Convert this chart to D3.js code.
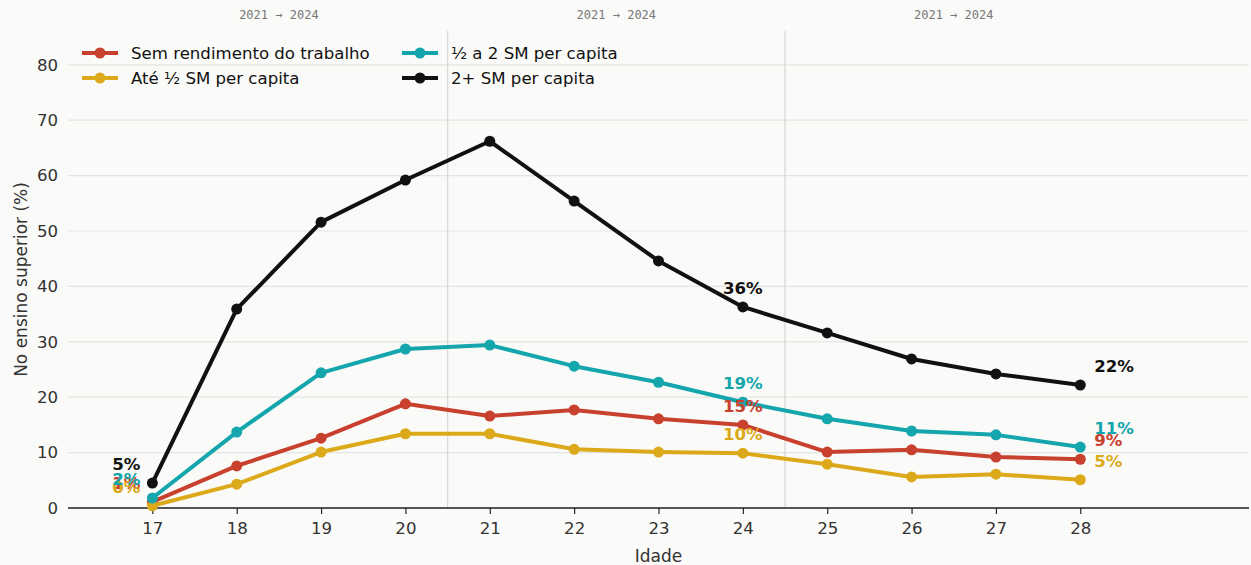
<!DOCTYPE html>
<html>
<head>
<meta charset="utf-8">
<script src="https://cdn.jsdelivr.net/npm/d3@7"></script>
<style>
  html, body { margin: 0; padding: 0; background: #fafaf8; }
  svg { display: block; font-family: "DejaVu Sans", sans-serif; }
</style>
</head>
<body>
<svg id="chart" width="1251" height="565"></svg>
<script>
const ages = [17, 18, 19, 20, 21, 22, 23, 24, 25, 26, 27, 28];
const seriesNames = ["Sem rendimento do trabalho", "Até ½ SM per capita", "½ a 2 SM per capita", "2+ SM per capita"];
const semRendimento = [1.1, 7.6, 12.6, 18.8, 16.6, 17.7, 16.1, 15.0, 10.1, 10.5, 9.2, 8.8];
const ateMeio = [0.4, 4.3, 10.1, 13.4, 13.4, 10.6, 10.1, 9.9, 7.9, 5.6, 6.1, 5.1];
const meioA2 = [1.8, 13.7, 24.4, 28.7, 29.4, 25.6, 22.7, 19.1, 16.1, 13.9, 13.2, 11.0];
const doisMais = [4.5, 35.9, 51.6, 59.2, 66.2, 55.4, 44.6, 36.3, 31.6, 26.9, 24.2, 22.2];
const colors = ["#c8402e", "#dca91b", "#14a6ac", "#111111"];
const yTicks = [0, 10, 20, 30, 40, 50, 60, 70, 80];
const periodDividers = [20.5, 24.5];
const periodCenters = [18.5, 22.5, 26.5];
const periodLabel = "2021 → 2024";
const labelAges = [17, 24, 28];

const seriesValues = [semRendimento, ateMeio, meioA2, doisMais];

const svg = d3.select("#chart");
const margin = {left: 68, right: 1249, top: 31, bottom: 508};
const x = d3.scaleLinear().domain([16, 30]).range([margin.left, margin.right]);
const y = d3.scaleLinear().domain([0, 86.1]).range([margin.bottom, margin.top]);
const fs = 16.6;

// grid
svg.append("g").selectAll("line").data(yTicks).join("line")
  .attr("x1", margin.left).attr("x2", margin.right)
  .attr("y1", d => y(d)).attr("y2", d => y(d))
  .attr("stroke", "#e4e4e2").attr("stroke-width", 1.2);

// period dividers
svg.append("g").selectAll("line").data(periodDividers).join("line")
  .attr("x1", d => x(d)).attr("x2", d => x(d))
  .attr("y1", margin.top).attr("y2", margin.bottom)
  .attr("stroke", "#d8d8d6").attr("stroke-width", 1.3);

svg.append("g").selectAll("text").data(periodCenters).join("text")
  .attr("x", d => x(d)).attr("y", 19)
  .attr("text-anchor", "middle")
  .attr("font-family", "DejaVu Sans Mono, monospace")
  .attr("font-size", 12).attr("fill", "#777")
  .text(periodLabel);

// y axis labels
const yAxis = d3.axisLeft(y).tickValues(yTicks).tickSize(0).tickPadding(10);
const gy = svg.append("g").attr("transform", `translate(${margin.left},0)`).call(yAxis);
gy.select(".domain").remove();
gy.selectAll("text").attr("font-size", fs).attr("fill", "#333").attr("font-family", "DejaVu Sans, sans-serif");

// x axis
const xAxis = d3.axisBottom(x).tickValues(ages).tickSize(6).tickPadding(8).tickFormat(d3.format("d"));
const gx = svg.append("g").attr("transform", `translate(0,${margin.bottom})`).call(xAxis);
gx.select(".domain").attr("stroke", "#222").attr("stroke-width", 1.6).attr("d", `M${margin.left},0H${margin.right}`);
gx.selectAll(".tick line").attr("stroke", "#222").attr("stroke-width", 1.2);
gx.selectAll("text").attr("font-size", fs).attr("fill", "#333").attr("font-family", "DejaVu Sans, sans-serif");

// axis titles
svg.append("text").attr("x", (margin.left + margin.right) / 2).attr("y", 562)
  .attr("text-anchor", "middle").attr("font-size", 17).attr("fill", "#333").text("Idade");
svg.append("text").attr("transform", `translate(27,${(margin.top + margin.bottom) / 2 + 10}) rotate(-90)`)
  .attr("text-anchor", "middle").attr("font-size", 17).attr("fill", "#333").text("No ensino superior (%)");

// lines
const line = d3.line().x((d, i) => x(ages[i])).y(d => y(d));
seriesValues.forEach((vals, s) => {
  const g = svg.append("g");
  g.append("path").datum(vals).attr("d", line)
    .attr("fill", "none").attr("stroke", colors[s]).attr("stroke-width", 4)
    .attr("stroke-linejoin", "round");
  g.selectAll("circle").data(vals).join("circle")
    .attr("cx", (d, i) => x(ages[i])).attr("cy", d => y(d)).attr("r", 5.5)
    .attr("fill", colors[s]);
});

// value labels
seriesValues.forEach((vals, s) => {
  labelAges.forEach(a => {
    const i = ages.indexOf(a);
    const v = vals[i];
    let anchor = "middle", dx = 0;
    if (a === 17) { anchor = "end"; dx = -12; }
    if (a === 28) { anchor = "start"; dx = 14; }
    svg.append("text")
      .attr("x", x(a) + dx).attr("y", y(v) - 13)
      .attr("text-anchor", anchor)
      .attr("font-size", fs).attr("font-weight", "bold")
      .attr("fill", colors[s])
      .text(Math.round(v) + "%");
  });
});

// legend
const legendPos = [[82, 53], [82, 78], [402, 53], [402, 78]];
seriesNames.forEach((name, s) => {
  const [lx, ly] = legendPos[s];
  const g = svg.append("g");
  g.append("line").attr("x1", lx).attr("x2", lx + 36).attr("y1", ly).attr("y2", ly)
    .attr("stroke", colors[s]).attr("stroke-width", 4);
  g.append("circle").attr("cx", lx + 18).attr("cy", ly).attr("r", 5.5).attr("fill", colors[s]);
  g.append("text").attr("x", lx + 49).attr("y", ly + 6).attr("font-size", fs).attr("fill", "#111").text(name);
});
</script>
</body>
</html>
